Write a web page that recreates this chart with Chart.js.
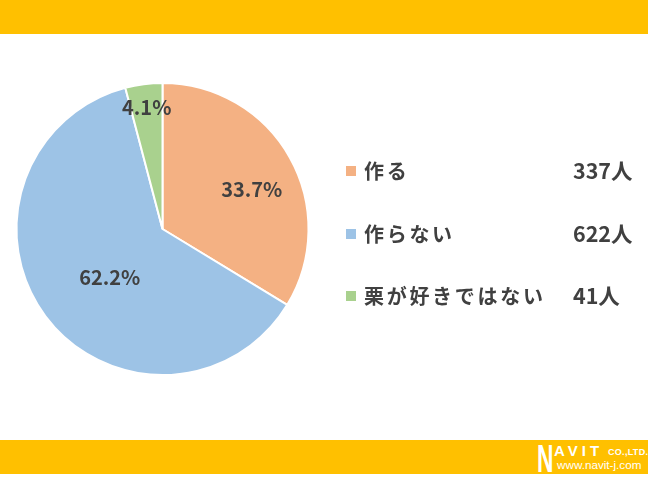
<!DOCTYPE html>
<html>
<head>
<meta charset="utf-8">
<script src="https://cdn.jsdelivr.net/npm/chart.js@4/dist/chart.umd.min.js"></script>
<style>
  html, body { margin: 0; padding: 0; background: #ffffff; }
  #wrap { position: relative; width: 650px; height: 477px; overflow: hidden; background: #fff; }
  .bar { position: absolute; left: 0; width: 648px; background: #FFC000; }
  #top { top: 0; height: 34px; }
  #bottom { top: 440px; height: 34px; }
  #chart { position: absolute; left: 0; top: 0; }
  .logo { position: absolute; color: #fff; font-family: "Liberation Sans", Arial, sans-serif; font-weight: bold; white-space: nowrap; }
  #logoN { left: 537px; top: 440px; font-size: 38px; line-height: 38px; transform: scaleX(0.6); transform-origin: left top; }
  #logoAvit { left: 554px; top: 443px; font-size: 15px; line-height: 15px; letter-spacing: 4px; }
  #logoCo { left: 608px; top: 448px; font-size: 9px; line-height: 9px; letter-spacing: 0.3px; }
  #logoUrl { left: 557px; top: 459px; font-size: 11.7px; line-height: 12px; font-weight: normal; }
</style>
</head>
<body>
<div id="wrap">
  <div class="bar" id="top"></div>
  <div class="bar" id="bottom"></div>
  <div class="logo" id="logoN">N</div>
  <div class="logo" id="logoAvit">AVIT</div>
  <div class="logo" id="logoCo">CO.,LTD.</div>
  <div class="logo" id="logoUrl">www.navit-j.com</div>
  <canvas id="chart" width="650" height="477"></canvas>
</div>
<script>
// ---- data ----
const categories = ["作る", "作らない", "栗が好きではない"];
const counts = [337, 622, 41];
const percentLabels = ["33.7%", "62.2%", "4.1%"];
const countLabels = ["337人", "622人", "41人"];

// ---- styles ----
const sliceColors = ["#F4B183", "#9DC3E6", "#A9D18E"];
const textColor = "#404040";
const labelRadiusFactor = [0.67, 0.49, 0.84];
const labelAngleShift = [0.09, -0.1, 0];

const labelPlugin = {
  id: "sliceLabels",
  afterDatasetsDraw(chart) {
    const ctx = chart.ctx;
    const meta = chart.getDatasetMeta(0);
    ctx.save();
    ctx.font = 'bold 20px "Noto Sans CJK JP", "Noto Sans", sans-serif';
    ctx.fillStyle = textColor;
    ctx.textAlign = "center";
    ctx.textBaseline = "middle";
    meta.data.forEach((arc, i) => {
      const p = arc.getProps(["x", "y", "startAngle", "endAngle", "outerRadius"], true);
      const mid = (p.startAngle + p.endAngle) / 2 + labelAngleShift[i];
      const r = p.outerRadius * labelRadiusFactor[i];
      ctx.fillText(percentLabels[i], p.x + Math.cos(mid) * r, p.y + Math.sin(mid) * r);
    });
    ctx.restore();
  }
};

const legendPlugin = {
  id: "sideLegend",
  afterDraw(chart) {
    const ctx = chart.ctx;
    const rowsY = [171, 234, 296];
    ctx.save();
    chart.data.labels.forEach((lab, i) => {
      const y = rowsY[i];
      ctx.fillStyle = sliceColors[i];
      ctx.fillRect(346, y - 5, 10, 10);
      ctx.fillStyle = textColor;
      ctx.textBaseline = "middle";
      ctx.textAlign = "left";
      ctx.font = 'bold 20px "Noto Sans CJK JP", sans-serif';
      ctx.letterSpacing = "2.7px";
      ctx.fillText(lab, 364, y);
      ctx.letterSpacing = "0px";
      ctx.font = 'bold 21.5px "Noto Sans CJK JP", sans-serif';
      ctx.fillText(countLabels[i], 573, y);
    });
    ctx.restore();
  }
};

new Chart(document.getElementById("chart"), {
  type: "pie",
  data: {
    labels: categories,
    datasets: [{
      data: counts,
      backgroundColor: sliceColors,
      borderColor: "#ffffff",
      borderWidth: 2
    }]
  },
  options: {
    responsive: false,
    animation: false,
    layout: { padding: { left: 15, top: 82, right: 340, bottom: 101 } },
    plugins: {
      legend: { display: false },
      tooltip: { enabled: false },
      title: { display: false }
    }
  },
  plugins: [labelPlugin, legendPlugin]
});
</script>
</body>
</html>
